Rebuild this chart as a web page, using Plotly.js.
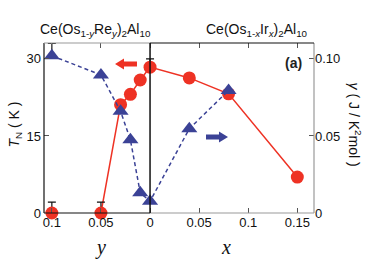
<!DOCTYPE html>
<html><head><meta charset="utf-8">
<script src="https://cdn.plot.ly/plotly-3.0.1.min.js"></script>
<style>html,body{margin:0;padding:0;background:#fff}#c{width:382px;height:262px}</style>
</head><body><div id="c"></div>
<script>
// Re-doped side: Ce(Os1-yRey)2Al10 (plotted to the left of 0)
const reY = [0.1, 0.05, 0.03, 0.02, 0.01];
const reTN = [0, 0, 21.1, 23.1, 25.9];
const reTNerr = [2.1, 2.1, 0, 0, 0];
const reGamma = [0.102, 0.0896, 0.066, 0.0475, 0.0132];
const reGammaErr = [0.008, 0, 0, 0, 0];
// Ir-doped side: Ce(Os1-xIrx)2Al10
const irX = [0, 0.04, 0.08, 0.15];
const irTN = [28.4, 26.3, 23.2, 7.0];
const irTNerr = [1.6, 0, 0, 0];
const irGammaX = [0, 0.04, 0.08];
const irGamma = [0.0076, 0.0547, 0.0795];
// axis ticks
const xTickVals = [-0.1, -0.05, 0, 0.05, 0.1, 0.15];
const xTickText = ['0.1', '0.05', '0', '0.05', '0.1', '0.15'];
const tnTicks = [0, 15, 30];
const gTicks = [0, 0.05, 0.1];
const gTickText = ['0', '0.05', '0.10'];

const RED = '#ee3224', BLUE = '#3b4296';
const XR = [-0.108, 0.167];
const tnX = reY.map(v => -v).concat(irX);
const tnY = reTN.concat(irTN);
const tnErr = reTNerr.concat(irTNerr);
const gX = reY.map(v => -v).concat(irGammaX);
const gY = reGamma.concat(irGamma);
const gErr = reGammaErr.concat(irGamma.map(() => 0));

// plot-area geometry in pixels (for decorative arrows)
const M = {l: 44, r: 68, t: 43, b: 49};
const PW = 382 - M.l - M.r, PH = 262 - M.t - M.b;
const px = X => (X - M.l) / PW, py = Y => (262 - M.b - Y) / PH;
function arrowPath(tipX, tipY, dir) { // dir -1: points left, +1: points right
  const L = 22, H = 9, hw = 5.5, sw = 2.6;
  const s = -dir;
  const pts = [[tipX, tipY], [tipX + s*H, tipY - hw], [tipX + s*H, tipY - sw], [tipX + s*L, tipY - sw],
               [tipX + s*L, tipY + sw], [tipX + s*H, tipY + sw], [tipX + s*H, tipY + hw]];
  return 'M' + pts.map(p => px(p[0]).toFixed(4) + ',' + py(p[1]).toFixed(4)).join(' L') + ' Z';
}

const traces = [
  {x: tnX.slice(1), y: tnY.slice(1), mode: 'lines', line: {color: RED, width: 1.5}, xaxis: 'x', yaxis: 'y', hoverinfo: 'skip'},
  {x: tnX, y: tnY, mode: 'markers', marker: {color: RED, size: 13, symbol: 'circle'},
   error_y: {type: 'data', array: tnErr, arrayminus: tnErr.map(() => 0), color: '#111', thickness: 1.2, width: 4},
   xaxis: 'x', yaxis: 'y', cliponaxis: false},
  {x: gX, y: gY, mode: 'lines+markers', line: {color: BLUE, width: 1.5, dash: '4px,3px'},
   marker: {color: BLUE, size: 14, symbol: 'triangle-up'},
   error_y: {type: 'data', array: gErr, arrayminus: gErr.map(() => 0), color: '#111', thickness: 1.2, width: 4},
   xaxis: 'x', yaxis: 'y2', cliponaxis: false}
];

const SANS = 'Liberation Sans, Arial, sans-serif';
const tickFont = {family: SANS, size: 13, color: '#111'};
const layout = {
  width: 382, height: 262, showlegend: false,
  margin: M,
  paper_bgcolor: '#fff', plot_bgcolor: '#fff',
  xaxis: {range: XR, tickvals: xTickVals, ticktext: xTickText, ticks: 'inside', ticklen: 5, tickcolor: '#555',
          mirror: 'ticks', showline: false, showgrid: false, zeroline: false, tickfont: tickFont, fixedrange: true},
  yaxis: {range: [0, 33.1], tickvals: tnTicks, ticks: 'inside', ticklen: 5, tickcolor: '#555',
          showline: false, showgrid: false, zeroline: false, tickfont: tickFont, ticklabelstandoff: 2},
  yaxis2: {range: [0, 0.1103], overlaying: 'y', side: 'right', tickvals: gTicks, ticktext: gTickText,
           ticks: 'inside', ticklen: 5, tickcolor: '#555', showline: false, showgrid: false, zeroline: false, tickfont: tickFont},
  shapes: [
    {type: 'line', xref: 'paper', yref: 'paper', x0: 0, x1: 0, y0: 0, y1: 1, line: {color: '#111', width: 1.2}},
    {type: 'line', xref: 'paper', yref: 'paper', x0: 1, x1: 1, y0: 0, y1: 1, line: {color: '#999', width: 1.2}},
    {type: 'line', xref: 'x', yref: 'paper', x0: XR[0], x1: 0, y0: 1, y1: 1, line: {color: '#999', width: 1.2}},
    {type: 'line', xref: 'x', yref: 'paper', x0: 0, x1: XR[1], y0: 1, y1: 1, line: {color: '#111', width: 1.2}},
    {type: 'line', xref: 'x', yref: 'paper', x0: XR[0], x1: 0, y0: 0, y1: 0, line: {color: '#111', width: 1.2}},
    {type: 'line', xref: 'x', yref: 'paper', x0: 0, x1: XR[1], y0: 0, y1: 0, line: {color: '#999', width: 1.2}},
    {type: 'line', xref: 'x', yref: 'paper', x0: 0, x1: 0, y0: 0, y1: 1, line: {color: '#111', width: 1.5}},
    {type: 'path', xref: 'paper', yref: 'paper', path: arrowPath(115, 64, -1), fillcolor: RED, line: {width: 0}},
    {type: 'path', xref: 'paper', yref: 'paper', path: arrowPath(228, 137, 1), fillcolor: BLUE, line: {width: 0}}
  ],
  annotations: [
    {xref: 'paper', yref: 'paper', x: px(27), y: 1, xanchor: 'left', yanchor: 'middle', yshift: 13, xshift: 11,
     text: 'Ce(Os<sub>1-<i>y</i></sub>Re<sub><i>y</i></sub>)<sub>2</sub>Al<sub>10</sub>',
     showarrow: false, font: {family: SANS, size: 14, color: '#111'}},
    {xref: 'paper', yref: 'paper', x: px(204), y: 1, xanchor: 'left', yanchor: 'middle', yshift: 13,
     text: 'Ce(Os<sub>1-<i>x</i></sub>Ir<sub><i>x</i></sub>)<sub>2</sub>Al<sub>10</sub>',
     showarrow: false, font: {family: SANS, size: 14, color: '#111'}},
    {xref: 'x', yref: 'paper', x: -0.05, y: 0, xanchor: 'center', yanchor: 'middle', yshift: -34, text: '<i>y</i>', showarrow: false,
     font: {family: 'Liberation Serif, Times New Roman, serif', size: 20, color: '#111'}},
    {xref: 'x', yref: 'paper', x: 0.077, y: 0, xanchor: 'center', yanchor: 'middle', yshift: -34, text: '<i>x</i>', showarrow: false,
     font: {family: 'Liberation Serif, Times New Roman, serif', size: 20, color: '#111'}},
    {xref: 'paper', yref: 'paper', x: 0, xanchor: 'center', yanchor: 'middle', xshift: -29, y: 0.52,
     text: '<i>T</i><sub>N</sub> ( K )', textangle: -90, showarrow: false,
     font: {family: SANS, size: 14, color: '#111'}},
    {xref: 'paper', yref: 'paper', x: 1, xanchor: 'center', yanchor: 'middle', xshift: 41, y: 0.52,
     text: '<i>γ</i> ( J / K<sup>2</sup>mol )', textangle: 90, showarrow: false,
     font: {family: SANS, size: 14, color: '#111'}},
    {xref: 'paper', yref: 'paper', x: 0.925, y: 0.882, xanchor: 'center', yanchor: 'middle', text: '<b>(a)</b>', showarrow: false,
     font: {family: SANS, size: 14, color: '#222'}}
  ]
};
Plotly.newPlot('c', traces, layout, {staticPlot: true, displayModeBar: false});
</script></body></html>
